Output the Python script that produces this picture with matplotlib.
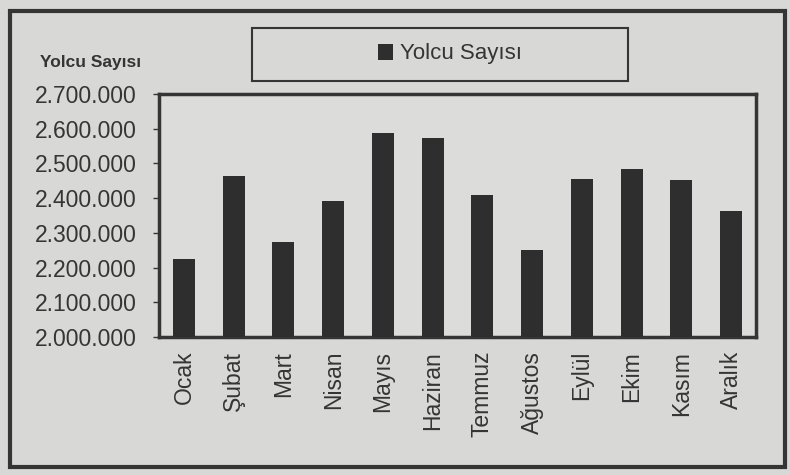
import matplotlib.pyplot as plt
from matplotlib.patches import Rectangle
from matplotlib.ticker import FuncFormatter

# monthly passenger counts
months = ["Ocak", "Şubat", "Mart", "Nisan", "Mayıs", "Haziran",
          "Temmuz", "Ağustos", "Eylül", "Ekim", "Kasım", "Aralık"]
passengers = [2226000, 2465000, 2274000, 2391000, 2587000, 2574000,
              2410000, 2250000, 2455000, 2483000, 2453000, 2362000]
series_name = "Yolcu Sayısı"
y_ticks = [2000000, 2100000, 2200000, 2300000, 2400000, 2500000, 2600000, 2700000]

plt.rcParams['font.family'] = ['Liberation Sans', 'DejaVu Sans']

bg = '#d8d8d6'
ink = '#353535'
bar_color = '#2e2e2e'

fig = plt.figure(figsize=(7.9, 4.75), dpi=100, facecolor=bg)
ax = fig.add_axes([0.2013, 0.2905, 0.7557, 0.5115], facecolor='#dcdcda')

x = range(len(months))
ax.bar(x, passengers, width=0.44, color=bar_color, label=series_name, zorder=3)

ax.set_xlim(-0.5, len(months) - 0.5)
ax.set_ylim(y_ticks[0], y_ticks[-1])
ax.set_yticks(y_ticks)
ax.yaxis.set_major_formatter(FuncFormatter(lambda v, p: f"{int(v):,}".replace(",", ".")))
ax.tick_params(axis='y', labelsize=16.5, labelcolor=ink, color=ink, length=4, width=1, pad=12)
ax.set_xticks(list(x))
ax.set_xticklabels(months, rotation=90, fontsize=16.5, color=ink)
ax.tick_params(axis='x', length=0, pad=10)

for s in ax.spines.values():
    s.set_color(ink)
    s.set_linewidth(2.5)

# y-axis title above the tick labels
fig.text(40 / 790, 1 - 62 / 475, series_name, fontsize=12.5, fontweight='bold',
         color=ink, ha='left', va='center')

# legend box
fig.patches.append(Rectangle((252 / 790, 1 - 81 / 475), 376 / 790, 53 / 475,
                             transform=fig.transFigure, fill=False,
                             edgecolor=ink, linewidth=1.5))
fig.legend(loc='center', bbox_to_anchor=(450 / 790, 1 - 54 / 475), frameon=False,
           fontsize=16, handlelength=0.7, handleheight=0.7, handletextpad=0.3,
           labelcolor=ink)

# outer frame of the chart
fig.patches.append(Rectangle((10 / 790, 1 - 467 / 475), 775 / 790, 456 / 475,
                             transform=fig.transFigure, fill=False,
                             edgecolor=ink, linewidth=3))

fig.savefig("out.png", dpi=100, facecolor=bg)
